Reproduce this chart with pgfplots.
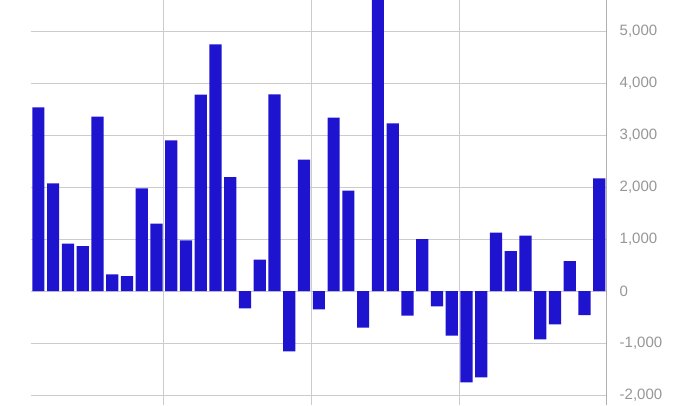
\documentclass[border=0pt]{standalone}
\usepackage{pgfplots}
\pgfplotsset{compat=1.18}
\usepackage{fontspec}
\setmainfont{Liberation Sans}
\definecolor{barblue}{RGB}{30,20,208}
\definecolor{gridgray}{RGB}{204,204,204}
\definecolor{axisgray}{RGB}{175,175,175}
\definecolor{labelgray}{RGB}{150,150,150}

\begin{document}
\begin{tikzpicture}
\path[use as bounding box] (0,0) rectangle (691pt,405pt);
\begin{axis}[
    at={(31pt,0pt)}, anchor=south west,
    scale only axis,
    width=575.7pt, height=405pt,
    xmin=0.5, xmax=39.5,
    ymin=-2192, ymax=5596,
    separate axis lines,
    axis x line*=bottom,
    axis y line*=right,
    x axis line style={draw=none},
    y axis line style={axisgray, line width=0.8pt},
    xtick={9.5,19.5,29.5},
    xticklabels={},
    ytick={-2000,-1000,0,1000,2000,3000,4000,5000},
    xmajorgrids, ymajorgrids,
    grid style={gridgray, line width=0.9pt},
    major tick length=0pt,
    tick style={draw=none},
    /pgf/number format/.cd, 1000 sep={,}, assume math mode=true,
    /pgfplots/.cd,
    yticklabel style={anchor=west, inner sep=0pt, xshift=12.8pt,
        text=labelgray, font=\fontsize{15}{15}\selectfont},
    ybar, bar width=12.2pt, bar shift=0pt,
]
\addplot[fill=barblue, draw=none] coordinates {
(1,3533) (2,2071) (3,910) (4,865) (5,3353) (6,321) (7,288) (8,1974)
(9,1295) (10,2897) (11,974) (12,3776) (13,4743) (14,2192) (15,-333)
(16,603) (17,3782) (18,-1160) (19,2526) (20,-353) (21,3333) (22,1929)
(23,-705) (24,5800) (25,3224) (26,-474) (27,1000) (28,-295) (29,-859)
(30,-1756) (31,-1660) (32,1122) (33,769) (34,1064) (35,-929) (36,-641)
(37,577) (38,-462) (39,2167)
};
\end{axis}
\end{tikzpicture}
\end{document}
